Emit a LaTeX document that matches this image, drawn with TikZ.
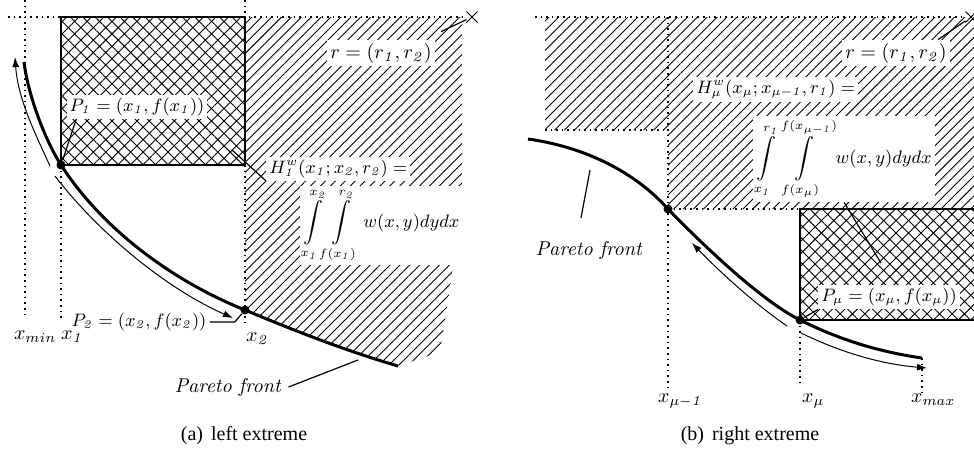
\documentclass[tikz,border=0pt]{standalone}
\usepackage[no-math]{fontspec}
\usepackage{tikz}
\usetikzlibrary{arrows.meta,patterns.meta,shapes.misc}
\newfontfamily\capfont{Liberation Serif}
\DeclareSymbolFont{itdigits}{OT1}{cmr}{m}{it}
\DeclareMathSymbol{1}{\mathord}{itdigits}{`1}
\DeclareMathSymbol{2}{\mathord}{itdigits}{`2}

\begin{document}
\begin{tikzpicture}[x=0.5pt, y=-0.5pt,
  front/.style={line width=1.5pt},
  trail/.style={line width=0.5pt, -{Latex[length=5pt,width=3.5pt]}},
  guide/.style={line width=0.8pt, dash pattern=on 0.8pt off 2pt},
  dot/.style={circle, fill, inner sep=0pt, minimum size=4.5pt},
  lbl/.style={fill=white, inner sep=1.5pt},
  pointer/.style={line width=0.6pt},
  hatched/.style={pattern={Lines[angle=45,distance=3.5pt,line width=0.45pt]}},
  crossed/.style={pattern={Hatch[angle=45,distance=4.4pt,line width=0.45pt]}},
  refpt/.style={cross out, draw, line width=0.5pt, minimum size=5pt, inner sep=0pt},
]
  \useasboundingbox (0,0) rectangle (974,457);

  \coordinate (P1) at (61,165);
  \coordinate (P2) at (245,310);
  \node[refpt] (ra) at (472,17) {};
  \fill[hatched] (245,17) -- (462,17) -- (462,210) -- (440,352) -- (398,366)
    .. controls (350,352) and (300,333) .. (P2) -- cycle;
  \draw[crossed, line width=0.6pt] (P1 |- ra) rectangle (P2 |- P1);
  \draw[guide] (8,17) -- (ra);
  \draw[guide] (25,0) -- (25,318);
  \draw[guide] (P1) -- (61,318);
  \draw[guide] (245,0) -- (245,17);
  \draw[guide] (P2 |- P1) -- (245,322);

  \node[lbl, font=\small] (p1lab) at (137,107) {$P_1=(x_1,f(x_1))$};
  \node[lbl, font=\small] (p2lab) at (139,322) {$P_2=(x_2,f(x_2))$};
  \node[lbl] (rlab) at (381,53) {$r=(r_1,r_2)$};
  \node[lbl, anchor=base west, font=\small] (hdefa) at (266,173) {$H^w_1(x_1;x_2,r_2)=$};
  \node[lbl, anchor=base west, font=\small] (hinta) at (300,227)
    {$\displaystyle\int\limits_{x_1}^{x_2}\!\int\limits_{f(x_1)}^{r_2} w(x,y)dydx$};
  \node (pfa) at (228,387) {\textit{Pareto front}};
  \node[anchor=base west] (xmin) at (7,339) {$x_{min}$};
  \node[anchor=base west] (xone) at (54,339) {$x_1$};
  \node[anchor=base west] (xtwo) at (239,341) {$x_2$};

  \draw[front] (24,62) .. controls (28,95) and (45,140) .. (P1)
    .. controls (101,227) and (170,280) .. (P2)
    .. controls (300,333) and (350,352) .. (398,366);
  \draw[trail] (50,166) .. controls (36,135) and (18,100) .. (15,57);
  \draw[trail] (55,176) .. controls (98,232) and (165,288) .. (233,318);
  \node[dot] (d1) at (P1) {};
  \node[dot] (d2) at (P2) {};

  \coordinate (ha) at (232,150);
  \coordinate (fa) at (358,360);
  \draw[pointer] ([xshift=5pt]p1lab.south west) -- (d1);
  \draw[pointer] (p2lab.east) -- ++(25,0) -- (d2);
  \draw[pointer] ([shift={(6,-8)}]rlab.north east) -- (ra);
  \draw[pointer] (hdefa.south west) -- (ha);
  \draw[pointer] (pfa.east) -- (fa);
  \node[font=\capfont] (capa) at (244,436) {(a)\hspace{4pt}left extreme};

  \coordinate (Q) at (668,209);
  \coordinate (Pm) at (800,320);
  \node[refpt] (rb) at (971,17) {};
  \fill[hatched] (545,17) -- (974,17) -- (974,209) -- (Q) -- (668,130) -- (545,130) -- cycle;
  \draw[crossed, line width=0.6pt] (978,209) -- (Pm |- Q) -- (Pm) -- (978,320);
  \draw[guide] (535,17) -- (rb);
  \draw[guide] (545,130) -- (668,130);
  \draw[guide] (Q) -- (Pm |- Q);
  \draw[guide] (668,17) -- (668,387);
  \draw[guide] (Pm) -- (800,387);
  \draw[guide] (922,358) -- (922,392);

  \node[lbl] (rlabb) at (896,53) {$r=(r_1,r_2)$};
  \node[lbl, anchor=base west, font=\small] (hdefb) at (693,93) {$H^w_\mu(x_\mu;x_{\mu-1},r_1)=$};
  \node[lbl, anchor=base west, font=\small] (hintb) at (753,163)
    {$\displaystyle\int\limits_{x_1}^{r_1}\!\int\limits_{f(x_\mu)}^{f(x_{\mu-1})} w(x,y)dydx$};
  \node[lbl, anchor=west, font=\small] (pmlab) at (818,297) {$P_\mu=(x_\mu,f(x_\mu))$};
  \node (pfb) at (589,250) {\textit{Pareto front}};
  \node[anchor=base west] (xmuone) at (651,402) {$x_{\mu-1}$};
  \node[anchor=base west] (xmu) at (795,402) {$x_\mu$};
  \node[anchor=base west] (xmax) at (904,402) {$x_{max}$};

  \draw[front] (528,139) .. controls (585,147) and (635,172) .. (Q)
    .. controls (700,242) and (760,300) .. (Pm)
    .. controls (840,340) and (880,352) .. (922,358);
  \draw[trail] (787,326) .. controls (752,302) and (716,268) .. (692,243);
  \draw[trail] (801,333) .. controls (840,352) and (880,364) .. (927,368);
  \node[dot] (d3) at (Q) {};
  \node[dot] (d4) at (Pm) {};

  \coordinate (hb) at (881,263);
  \coordinate (pb) at (590,170);
  \draw[pointer] ([xshift=-6pt]rlabb.north east) -- (rb);
  \draw[pointer] (hintb.south) -- (hb);
  \draw[pointer] (pmlab.south west) -- (d4);
  \draw[pointer] ([xshift=-4pt,yshift=8pt]pfb.north) -- (pb);
  \node[font=\capfont] (capb) at (750,436) {(b)\hspace{4pt}right extreme};
\end{tikzpicture}
\end{document}
